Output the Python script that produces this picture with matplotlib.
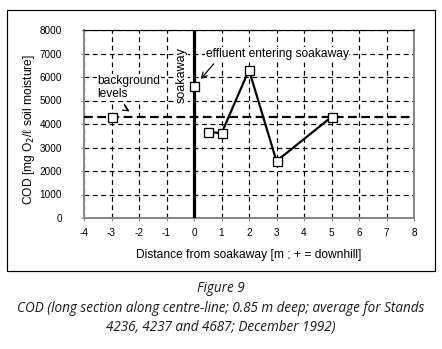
import matplotlib
matplotlib.use("Agg")
import matplotlib.pyplot as plt
from matplotlib.patches import Rectangle

# data
dist_line = [0.5, 1, 2, 3, 5]
cod_line = [3680, 3600, 6300, 2420, 4300]
dist_single = [-3, 0]
cod_single = [4300, 5600]
background_level = 4300
x_ticks = list(range(-4, 9))
y_ticks = list(range(0, 8001, 1000))

plt.rcParams['font.family'] = ['Liberation Sans', 'DejaVu Sans']
plt.rcParams['axes.unicode_minus'] = False

DPI = 100
fig = plt.figure(figsize=(4.42, 3.49), dpi=DPI)
W, H = 442, 349


def px(v):
    return v * 72 / DPI


# chart frame
fig.patches.append(Rectangle((7 / W, 1 - 271 / H), 428 / W, 261 / H, transform=fig.transFigure,
                             fill=False, edgecolor='black', linewidth=px(1.2)))

ax = fig.add_axes([84 / W, 1 - 218 / H, 330 / W, 188 / H])
ax.set_xlim(-4, 8)
ax.set_ylim(0, 8000)
ax.set_xticks(x_ticks)
ax.set_yticks(y_ticks)
ax.grid(True, color='black', linestyle=(0, (4, 3)), linewidth=px(1.2))
ax.set_axisbelow(True)
for side in ['left', 'bottom', 'right']:
    ax.spines[side].set_color('#888888')
    ax.spines[side].set_linewidth(px(2))
ax.spines['top'].set_color('black')
ax.spines['top'].set_linewidth(px(1.2))
ax.tick_params(axis='both', length=px(3), color='#888888', labelsize=px(10))
ax.tick_params(axis='x', pad=px(7))
ax.tick_params(axis='y', pad=px(19))

ax.axhline(background_level, color='black', linestyle=(0, (4, 2)), linewidth=px(2.2), zorder=3)
ax.axvline(0, color='black', linewidth=px(3.2), zorder=3)

ax.plot(dist_line, cod_line, color='black', linewidth=px(2.2), zorder=4)
ax.plot(dist_line, cod_line, linestyle='none', marker='s', markersize=px(9),
        markerfacecolor='white', markeredgecolor='black', markeredgewidth=px(1.3), zorder=5)
ax.plot(dist_single, cod_single, linestyle='none', marker='s', markersize=px(9),
        markerfacecolor='white', markeredgecolor='black', markeredgewidth=px(1.3), zorder=5)

bbox = dict(facecolor='white', edgecolor='none', pad=0.5)
ax.text(-0.45, 6100, 'soakaway', rotation=90, ha='center', va='center', fontsize=px(12.5), bbox=bbox, zorder=4)
ax.text(0.42, 7000, 'effluent entering soakaway', ha='left', va='center', fontsize=px(12), bbox=bbox, zorder=4)
ax.text(-3.5, 5560, 'background\nlevels', ha='left', va='center', fontsize=px(12), linespacing=1.15,
        bbox=bbox, zorder=4)
ax.annotate('', xy=(0.18, 5820), xytext=(0.78, 6650),
            arrowprops=dict(arrowstyle='->', color='black', lw=px(1.2)), zorder=6)
ax.annotate('', xy=(-2.25, 4480), xytext=(-2.55, 4950),
            arrowprops=dict(arrowstyle='->', color='black', lw=px(1.2),
                            connectionstyle='arc3,rad=0.3'), zorder=6)

ax.set_xlabel('Distance from soakaway [m ; + = downhill]', fontsize=px(12))
ax.set_ylabel('COD [mg O$_2$/ℓ soil moisture]', fontsize=px(12))
ax.xaxis.set_label_coords(0.5, -(249 - 218) / 188)
ax.yaxis.set_label_coords((37 - 84) / 330, (218 - 130) / 188)

cap = dict(ha='center', va='center', fontsize=px(13.5), family=['Open Sans', 'DejaVu Sans'],
           style='italic', color='#1a1a1a')
fig.text(0.5, 1 - 289 / H, 'Figure 9', **cap)
fig.text(0.5, 1 - 308 / H, 'COD (long section along centre-line; 0.85 m deep; average for Stands', **cap)
fig.text(0.5, 1 - 327 / H, '4236, 4237 and 4687; December 1992)', **cap)

fig.savefig('out.png', dpi=DPI)
